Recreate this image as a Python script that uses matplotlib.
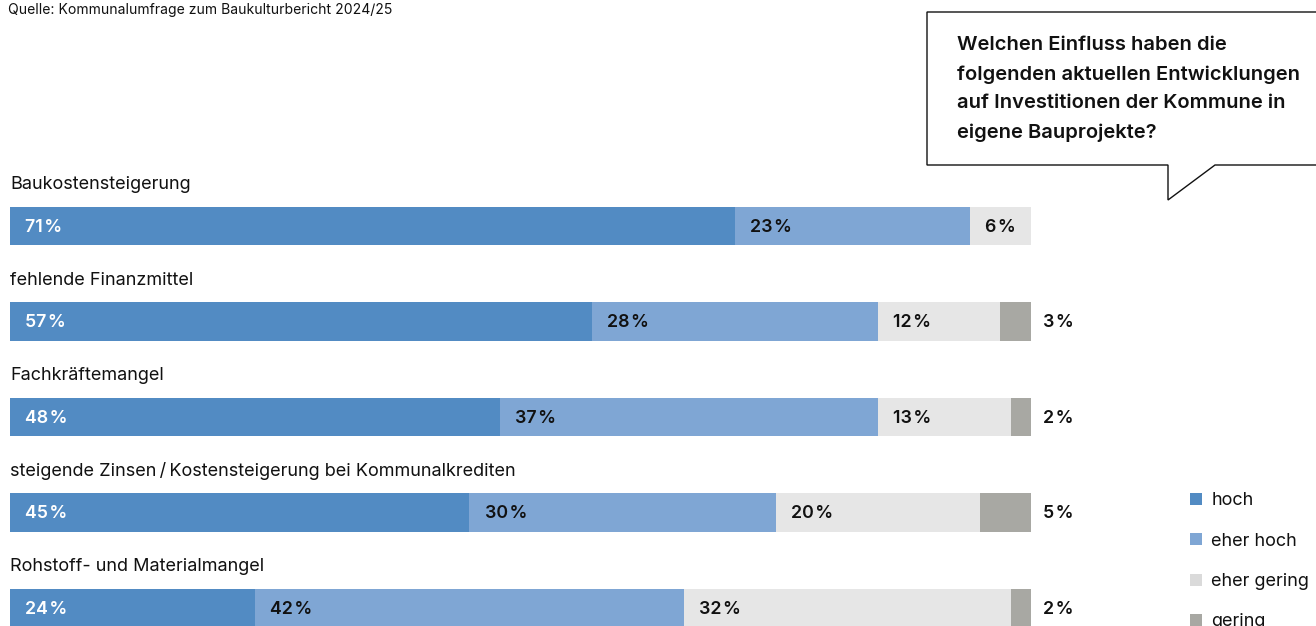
import matplotlib
matplotlib.use("Agg")
import matplotlib.pyplot as plt
from matplotlib.lines import Line2D

plt.rcParams['font.family'] = ['Inter', 'DejaVu Sans']

# data
categories = [
    "Baukostensteigerung",
    "fehlende Finanzmittel",
    "Fachkräftemangel",
    "steigende Zinsen\u2009/\u2009Kostensteigerung bei Kommunalkrediten",
    "Rohstoff- und Materialmangel",
]
hoch = [71, 57, 48, 45, 24]
eher_hoch = [23, 28, 37, 30, 42]
eher_gering = [6, 12, 13, 20, 32]
gering = [0, 3, 2, 5, 2]
series_names = ["hoch", "eher hoch", "eher gering", "gering"]
colors = ["#528bc3", "#7fa6d4", "#e6e6e6", "#a8a8a3"]
legend_colors = ["#528bc3", "#7fa6d4", "#dadada", "#a8a8a3"]

W, H = 1316, 626
fig = plt.figure(figsize=(W / 100, H / 100), dpi=100)

# bar axes: 0..100 % mapped to pixel 10..1031
ax = fig.add_axes([10 / W, 0, 1021 / W, 1])
ax.set_xlim(0, 100)
step = 95.5
ax.set_ylim((H - 226) / step, -226 / step)
ax.axis("off")

series = [hoch, eher_hoch, eher_gering, gering]
for i, cat in enumerate(categories):
    left = 0
    for k, vals in enumerate(series):
        v = vals[i]
        if v > 0:
            ax.barh(i, v, left=left, height=0.4, color=colors[k], linewidth=0)
            if k < 3:
                ax.text(left + 1.5, i + 0.015, f"{v}\u200a%", ha="left", va="center",
                        fontsize=12.8, fontweight="semibold",
                        color="white" if k == 0 else "#111111")
            else:
                ax.text(101.2, i + 0.015, f"{v}\u200a%", ha="left", va="center",
                        fontsize=12.8, fontweight="semibold", color="#111111",
                        clip_on=False)
        left += v
    ax.text(0, i - 0.43, cat, ha="left", va="center", fontsize=13,
            color="#111111")

# overlay in pixel coordinates for source, speech bubble
ov = fig.add_axes([0, 0, 1, 1], zorder=-1)
ov.set_xlim(0, W)
ov.set_ylim(H, 0)
ov.axis("off")
ov.text(8, 10, "Quelle: Kommunalumfrage zum Baukulturbericht 2024/25",
        fontsize=10.1, ha="left", va="center", color="#111111")
bx = [W, 927, 927, 1168, 1168, 1215, W]
by = [12, 12, 165, 165, 200, 165, 165]
ov.plot(bx, by, color="#111111", linewidth=1.0, solid_joinstyle="miter")
question = ("Welchen Einfluss haben die\nfolgenden aktuellen Entwicklungen\n"
            "auf Investitionen der Kommune in\neigene Bauprojekte?")
ov.text(957, 36, question, fontsize=14.5, fontweight="semibold",
        ha="left", va="top", linespacing=1.77, color="#111111")

handles = [Line2D([0], [0], marker="s", linestyle="none", markersize=9,
                  markerfacecolor=c, markeredgewidth=0) for c in legend_colors]
fig.legend(handles, series_names, loc="upper left",
           bbox_to_anchor=(1178 / W, 1 - 483 / H), frameon=False,
           fontsize=13, labelspacing=1.3, handletextpad=0.35,
           handlelength=1.0, borderpad=0, labelcolor="#111111")

fig.savefig("out.png", dpi=100)
